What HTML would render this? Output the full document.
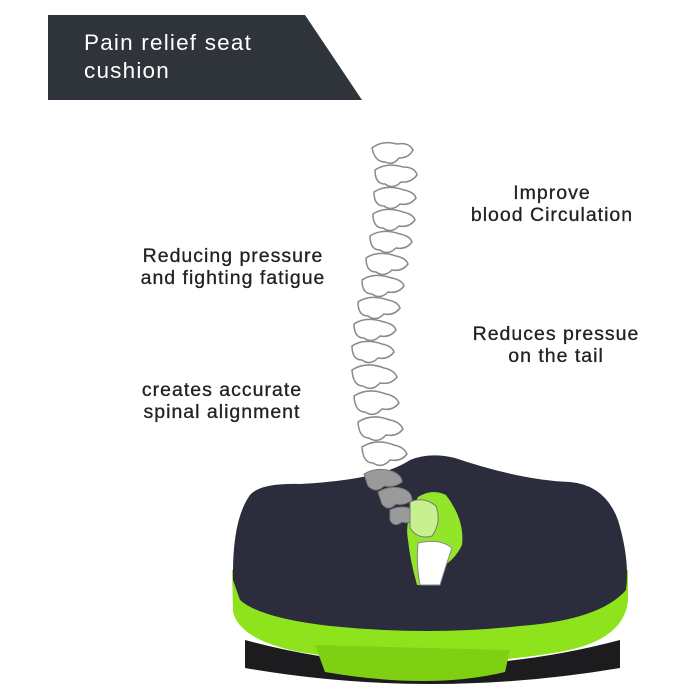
<!DOCTYPE html>
<html><head><meta charset="utf-8"><style>
html,body{margin:0;padding:0;background:#fff;}
body{width:690px;height:700px;position:relative;overflow:hidden;font-family:"Liberation Sans",sans-serif;}
.t{position:absolute;color:#222;font-size:19.5px;text-align:center;line-height:22px;letter-spacing:1px;font-weight:500;-webkit-text-stroke:0.3px #222;}
</style></head><body>
<svg width="690" height="700" style="position:absolute;left:0;top:0">
<polygon points="48,15 305,15 362,100 48,100" fill="#2f343b"/>
<text x="84" y="50" fill="#fff" font-size="22.5" letter-spacing="1.2" font-family="Liberation Sans">Pain relief seat</text>
<text x="84" y="78" fill="#fff" font-size="22.5" letter-spacing="1.2" font-family="Liberation Sans">cushion</text>
<!-- spine -->
<g fill="#fff" stroke="#8a8a8a" stroke-width="1.5">
<path d="M372,148 q10,-8 25,-4 q12,-2 16,6 q-4,8 -14,8 q-6,8 -14,4 q-10,0 -13,-14z"/>
<path d="M375,170 q12,-8 28,-3 q12,0 14,8 q-6,8 -16,7 q-8,8 -16,2 q-10,0 -10,-14z"/>
<path d="M374,192 q12,-8 30,-2 q10,2 12,8 q-6,8 -16,6 q-8,8 -16,2 q-10,0 -10,-14z"/>
<path d="M373,214 q12,-8 30,-2 q10,2 12,8 q-6,8 -16,6 q-8,8 -16,2 q-10,0 -10,-14z"/>
<path d="M370,236 q12,-8 30,-2 q10,2 12,8 q-6,8 -16,6 q-8,8 -16,2 q-10,0 -10,-14z"/>
<path d="M366,258 q12,-8 30,-2 q10,2 12,8 q-6,8 -16,6 q-8,8 -16,2 q-10,0 -10,-14z"/>
<path d="M362,280 q12,-8 30,-2 q10,2 12,8 q-6,8 -16,6 q-8,8 -16,2 q-10,0 -10,-14z"/>
<path d="M358,302 q12,-8 30,-2 q10,2 12,8 q-6,8 -16,6 q-8,8 -16,2 q-10,0 -10,-14z"/>
<path d="M354,324 q12,-8 30,-2 q10,2 12,8 q-6,8 -16,6 q-8,8 -16,2 q-10,0 -10,-14z"/>
<path d="M352,346 q12,-8 30,-2 q10,2 12,8 q-6,8 -16,6 q-8,8 -16,2 q-10,0 -10,-14z"/>
<path d="M352,370 q14,-9 32,-2 q10,2 13,9 q-6,8 -17,6 q-8,9 -17,3 q-10,0 -11,-16z"/>
<path d="M354,396 q14,-9 32,-2 q10,2 13,9 q-6,8 -17,6 q-8,9 -17,3 q-10,0 -11,-16z"/>
<path d="M358,422 q14,-9 32,-2 q10,2 13,9 q-6,8 -17,6 q-8,9 -17,3 q-10,0 -11,-16z"/>
<path d="M362,447 q14,-9 32,-2 q10,2 13,9 q-6,8 -17,6 q-8,9 -17,3 q-10,0 -11,-16z"/>
</g>
<!-- cushion base -->
<path d="M245,640 Q430,690 620,640 L620,668 Q430,700 245,668 Z" fill="#1c1c1e"/>
<!-- green band -->
<path d="M232,570 L233,612 Q240,640 300,652 Q430,674 560,652 Q625,640 628,600 L628,570 Z" fill="#8fe31c"/>
<path d="M315,645 L325,672 Q430,690 505,672 L510,650 Z" fill="#7fd012"/>
<!-- top -->
<path d="M233,580 Q232,520 250,495 Q260,483 300,484 Q380,480 410,460 Q430,452 455,458 Q520,480 570,482 Q605,485 618,520 Q630,560 626,590 Q600,620 520,626 Q430,636 330,626 Q260,618 240,600 Z" fill="#2b2c3c"/>
<!-- hole -->
<path d="M418,497 Q432,488 446,495 Q465,520 462,545 Q455,560 440,568 L440,585 L417,585 Q410,560 408,540 Q404,520 418,497Z" fill="#93e52a"/>
<path d="M418,543 Q440,538 452,548 Q446,565 440,585 L420,585 Q416,565 418,543Z" fill="#fff" stroke="#888" stroke-width="1"/>
<g fill="#9a9a9a" stroke="#777" stroke-width="1">
<path d="M364,474 q14,-8 30,-2 q8,4 8,10 q-8,6 -18,4 q-8,8 -16,0z"/>
<path d="M378,492 q14,-8 28,-2 q6,4 6,10 q-8,6 -16,4 q-8,8 -14,0z"/>
<path d="M390,510 q12,-6 24,0 q4,4 2,10 q-8,4 -14,2 q-8,6 -12,-2z"/>
</g>
<path d="M410,502 q14,-6 26,4 q6,16 -4,30 q-14,4 -22,-8z" fill="#c9f08f" stroke="#777" stroke-width="1"/>
</svg>
<div class="t" style="left:442px;top:182px;width:220px">Improve<br>blood Circulation</div>
<div class="t" style="left:108px;top:245px;width:250px">Reducing pressure<br>and fighting fatigue</div>
<div class="t" style="left:446px;top:323px;width:220px">Reduces pressue<br>on the tail</div>
<div class="t" style="left:102px;top:379px;width:240px">creates accurate<br>spinal alignment</div>
</body></html>
